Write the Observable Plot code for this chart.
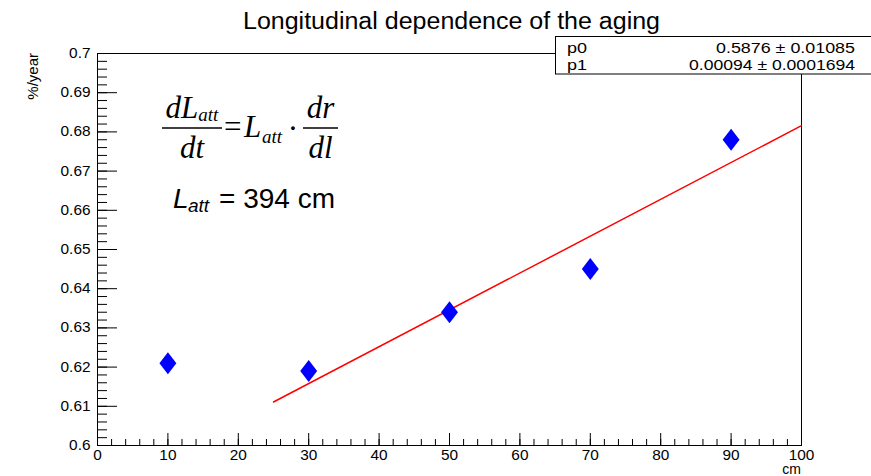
<!DOCTYPE html>
<html>
<head>
<meta charset="utf-8">
<script src="https://cdn.jsdelivr.net/npm/d3@7"></script>
<script src="https://cdn.jsdelivr.net/npm/@observablehq/plot@0.6"></script>
<style>
  html, body { margin: 0; padding: 0; background: #fff; }
  #chart { width: 871px; height: 476px; }
</style>
</head>
<body>
<div id="chart"></div>
<script>
// Measured aging rate versus longitudinal position
const positions = [10, 30, 50, 70, 90];          // cm
const agingRates = [0.621, 0.619, 0.634, 0.645, 0.678]; // %/year

// Linear fit results: rate = p0 + p1 * position
const fitNames = ["p0", "p1"];
const fitValues = [0.5876, 0.00094];
const fitErrors = ["0.01085", "0.0001694"];
const fitValueLabels = ["0.5876", "0.00094"];
const fitRange = [25, 100];

// Axis tick labels
const xTickLabels = [0, 10, 20, 30, 40, 50, 60, 70, 80, 90, 100];
const yTickLabels = [0.60, 0.61, 0.62, 0.63, 0.64, 0.65, 0.66, 0.67, 0.68, 0.69, 0.70];
const xMinor = d3.range(0, 100.001, 2);
const yMinor = d3.range(0, 51).map(i => 0.6 + i * 0.002);

const points = positions.map((x, i) => ({x, y: agingRates[i]}));
const fitLine = fitRange.map(x => ({x, y: fitValues[0] + fitValues[1] * x}));

// Elongated diamond marker
const diamond = {
  draw(context, size) {
    const s = Math.sqrt(size / Math.PI);
    const w = s * 0.77;
    context.moveTo(0, -s);
    context.lineTo(w, 0);
    context.lineTo(0, s);
    context.lineTo(-w, 0);
    context.closePath();
  }
};

const svg = Plot.plot({
  width: 871,
  height: 476,
  marginLeft: 97,
  marginRight: 70,
  marginTop: 53,
  marginBottom: 31,
  x: {domain: [0, 100]},
  y: {domain: [0.6, 0.7]},
  style: {fontFamily: "'Liberation Sans', Arial, sans-serif", fontSize: "14px", background: "white", color: "black"},
  marks: [
    Plot.frame({stroke: "black", strokeWidth: 1}),
    // inward ticks
    Plot.axisY({ticks: yTickLabels, tickSize: -20, fill: "none", label: null}),
    Plot.axisY({ticks: yMinor, tickSize: -10, fill: "none", label: null}),
    Plot.axisX({ticks: xTickLabels, tickSize: -12, fill: "none", label: null}),
    Plot.axisX({ticks: xMinor, tickSize: -6, fill: "none", label: null}),
    // tick labels
    Plot.axisY({ticks: yTickLabels, tickSize: 0, tickPadding: 7, label: null,
      tickFormat: d => String(+d.toFixed(2))}),
    Plot.axisX({ticks: xTickLabels, tickSize: 0, tickPadding: 5, label: null,
      tickFormat: d => String(d)}),
    Plot.line(fitLine, {x: "x", y: "y", stroke: "#ff0000", strokeWidth: 1.5}),
    Plot.dot(points, {x: "x", y: "y", symbol: diamond, r: 11, fill: "#0000ff", stroke: "none"})
  ]
});

// Slightly wider tick label glyphs
d3.select(svg).selectAll('g[aria-label="x-axis tick label"] text, g[aria-label="y-axis tick label"] text')
  .each(function() {
    const t = this.getAttribute("transform") || "";
    this.setAttribute("transform", t + " scale(1.1,1)");
  });

const s = d3.select(svg);
const sans = "'Liberation Sans', Arial, sans-serif";
const serif = "'Liberation Serif', 'Times New Roman', serif";

// Annotations layer, left-anchored text by default
const ann = s.append("g").attr("text-anchor", "start").attr("fill", "black");

// Title
ann.append("text")
  .attr("x", 451.5).attr("y", 29)
  .attr("text-anchor", "middle")
  .attr("font-family", sans).attr("font-size", 23)
  .attr("textLength", 417).attr("lengthAdjust", "spacingAndGlyphs")
  .text("Longitudinal dependence of the aging");

// Axis titles
ann.append("text")
  .attr("transform", "translate(38,53) rotate(-90)")
  .attr("text-anchor", "end")
  .attr("font-family", sans).attr("font-size", 15)
  .text("%/year");

ann.append("text")
  .attr("x", 801).attr("y", 474)
  .attr("text-anchor", "end")
  .attr("font-family", sans).attr("font-size", 14)
  .text("cm");

// Fit parameter box
const box = ann.append("g");
box.append("rect")
  .attr("x", 555.5).attr("y", 36.5)
  .attr("width", 330).attr("height", 37.5)
  .attr("fill", "white").attr("stroke", "black").attr("stroke-width", 1);
fitNames.forEach((name, i) => {
  const yb = 53 + i * 17;
  box.append("text")
    .attr("x", 567).attr("y", yb)
    .attr("font-family", sans).attr("font-size", 15)
    .attr("textLength", 20).attr("lengthAdjust", "spacingAndGlyphs")
    .text(name);
  box.append("text")
    .attr("x", 855).attr("y", yb)
    .attr("text-anchor", "end")
    .attr("font-family", sans).attr("font-size", 15)
    .attr("textLength", i === 0 ? 139 : 166).attr("lengthAdjust", "spacingAndGlyphs")
    .text(`${fitValueLabels[i]} \u00b1 ${fitErrors[i]}`);
});

// Formula: dL_att/dt = L_att · dr/dl
const f = ann.append("g");
const num1 = f.append("text")
  .attr("x", 192).attr("y", 118).attr("text-anchor", "middle")
  .attr("font-family", serif).attr("font-style", "italic").attr("font-size", 31);
num1.append("tspan").text("dL");
num1.append("tspan").attr("font-size", 19).attr("dy", 3).text("att");
f.append("line").attr("x1", 162).attr("x2", 222).attr("y1", 128).attr("y2", 128)
  .attr("stroke", "black").attr("stroke-width", 1.6);
f.append("text")
  .attr("x", 192).attr("y", 158).attr("text-anchor", "middle")
  .attr("font-family", serif).attr("font-style", "italic").attr("font-size", 31)
  .text("dt");
f.append("text")
  .attr("x", 224).attr("y", 137)
  .attr("font-family", serif).attr("font-size", 31)
  .text("=");
f.append("text")
  .attr("x", 244).attr("y", 137)
  .attr("font-family", serif).attr("font-style", "italic").attr("font-size", 31)
  .text("L");
f.append("text")
  .attr("x", 262).attr("y", 143)
  .attr("font-family", serif).attr("font-style", "italic").attr("font-size", 19)
  .text("att");
f.append("text")
  .attr("x", 293).attr("y", 139).attr("text-anchor", "middle")
  .attr("font-family", serif).attr("font-size", 31)
  .text("\u00b7");
f.append("text")
  .attr("x", 320.5).attr("y", 118).attr("text-anchor", "middle")
  .attr("font-family", serif).attr("font-style", "italic").attr("font-size", 31)
  .text("dr");
f.append("line").attr("x1", 303).attr("x2", 338).attr("y1", 128).attr("y2", 128)
  .attr("stroke", "black").attr("stroke-width", 1.6);
f.append("text")
  .attr("x", 320.5).attr("y", 158).attr("text-anchor", "middle")
  .attr("font-family", serif).attr("font-style", "italic").attr("font-size", 31)
  .text("dl");

// Attenuation length
f.append("text")
  .attr("x", 173).attr("y", 208)
  .attr("font-family", sans).attr("font-style", "italic").attr("font-size", 28)
  .text("L");
f.append("text")
  .attr("x", 188).attr("y", 212)
  .attr("font-family", sans).attr("font-style", "italic").attr("font-size", 19)
  .text("att");
f.append("text")
  .attr("x", 219).attr("y", 208)
  .attr("font-family", sans).attr("font-size", 28)
  .text("= 394 cm");

document.getElementById("chart").appendChild(svg);
</script>
</body>
</html>
